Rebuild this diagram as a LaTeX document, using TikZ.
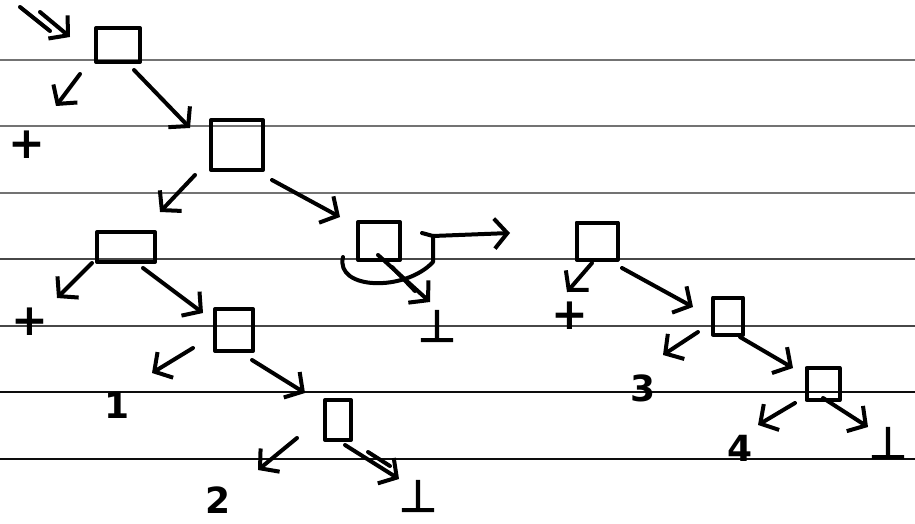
\documentclass[tikz,border=0pt]{standalone}
\usepackage{fontspec}
\setmainfont{DejaVu Sans}
\newfontfamily\heavysans[FakeBold=3]{DejaVu Sans}
\usetikzlibrary{arrows.meta,calc}
\definecolor{ruletop}{gray}{0.45}
\definecolor{rulemid}{gray}{0.28}
\definecolor{rulebot}{gray}{0.05}
\begin{document}
\begin{tikzpicture}[x=1pt,y=-1pt,
  ink/.style={line width=4pt, line cap=round, line join=round},
  rule/.style={line width=1.4pt},
  cell/.style={ink, draw, rectangle, inner sep=0pt},
  lbl/.style={inner sep=0pt, font=\fontsize{36}{38}\selectfont\bfseries},
  plus/.style={inner sep=0pt, font=\fontsize{44}{46}\selectfont\bfseries},
  botm/.style={inner sep=0pt, font=\fontsize{44}{46}\selectfont\heavysans},
  arr/.style={ink, -{Straight Barb[length=13pt,width=30pt]}}]
\useasboundingbox (0,0) rectangle (915,524);

% ruled paper
\foreach \y/\c in {60/ruletop,126/ruletop,193/ruletop,259/rulemid,326/rulemid,392/rulebot,459/rulebot}
  \draw[rule,\c] (0,\y) -- (915,\y);

% cells of the left list
\node[cell, minimum width=44pt, minimum height=34pt] (r1) at (118,45) {};
\node[cell, minimum width=52pt, minimum height=50pt] (r2) at (237,145) {};
\node[cell, minimum width=58pt, minimum height=30pt] (r3) at (126,247) {};
\node[cell, minimum width=42pt, minimum height=38pt] (r4) at (379,241) {};
\node[cell, minimum width=38pt, minimum height=42pt] (r5) at (234,330) {};
\node[cell, minimum width=26pt, minimum height=40pt] (r6) at (338,420) {};

% cells of the right list
\node[cell, minimum width=41pt, minimum height=37pt] (s1) at (597,241) {};
\node[cell, minimum width=30pt, minimum height=37pt] (s2) at (728,316) {};
\node[cell, minimum width=33pt, minimum height=32pt] (s3) at (823,384) {};

% leaves
\node[plus] (p1) at (27,145) {+};
\node[plus] (p2) at (30,322) {+};
\node[plus] (p3) at (570,316) {+};
\node[lbl] (n1) at (117,405) {1};
\node[lbl] (n2) at (218,500) {2};
\node[lbl] (n3) at (643,388) {3};
\node[lbl] (n4) at (740,448) {4};
\node[botm] (b1) at (437,326) {⊥};
\node[botm] (b2) at (418,496) {⊥};
\node[botm] (b3) at (888,443) {⊥};

% entry pointer (double stroke)
\coordinate (in) at (40,12);
\draw[arr] (in) -- ($(r1)+(-48,-8)$);
\draw[ink] ($(r1)+(-98,-38)$) -- ($(r1)+(-68,-14)$);

% left list
\draw[arr] ($(r1)+(-38,29)$) -- ($(p1)+(29,-39)$);
\draw[arr] ($(r1)+(16,25)$) -- ($(r2)+(-47,-17)$);
\draw[arr] ($(r2)+(-42,30)$) -- ($(r3)+(34,-35)$);
\draw[arr] ($(r2)+(35,35)$) -- ($(r4)+(-39,-24)$);
\draw[arr] ($(r3)+(-34,16)$) -- ($(p2)+(27,-24)$);
\draw[arr] ($(r3)+(17,21)$) -- ($(r5)+(-31,-17)$);
\draw[arr] ($(r5)+(-41,18)$) -- ($(n1)+(35,-32)$);
\draw[arr] ($(r5)+(18,30)$) -- ($(r6)+(-33,-27)$);
\draw[arr] ($(r6)+(-41,18)$) -- ($(n2)+(40,-30)$);
\draw[arr] ($(r6)+(7,25)$) -- ($(b2)+(-19,-17)$);
\draw[ink] ($(r6)+(30,32)$) -- ($(r6)+(52,46)$);

% the cell r4: looped pointer and pointer to bottom
\coordinate (out) at (510,233);
\draw[arr] ($(r4)+(-36,16)$) .. controls ($(r4)+(-44,49)$) and ($(r4)+(26,51)$) ..
  ($(r4)+(54,21)$) -- ($(r4)+(54,-5)$) -- (out);
\draw[ink] ($(r4)+(54,-5)$) -- ($(r4)+(43,-8)$);
\draw[arr] ($(r4)+(-1,14)$) -- ($(b1)+(-7,-24)$);
\draw[ink] ($(r4)+(13,26)$) -- ($(r4)+(36,50)$);

% right list
\draw[arr] ($(s1)+(-5,22)$) -- ($(p3)+(-3,-24)$);
\draw[arr] ($(s1)+(25,27)$) -- ($(s2)+(-35,-9)$);
\draw[arr] ($(s2)+(-30,16)$) -- ($(n3)+(20,-33)$);
\draw[arr] ($(s2)+(12,21)$) -- ($(s3)+(-30,-16)$);
\draw[arr] ($(s3)+(-28,19)$) -- ($(n4)+(18,-23)$);
\draw[arr] ($(s3)+(0,14)$) -- ($(b3)+(-20,-16)$);
\end{tikzpicture}
\end{document}
